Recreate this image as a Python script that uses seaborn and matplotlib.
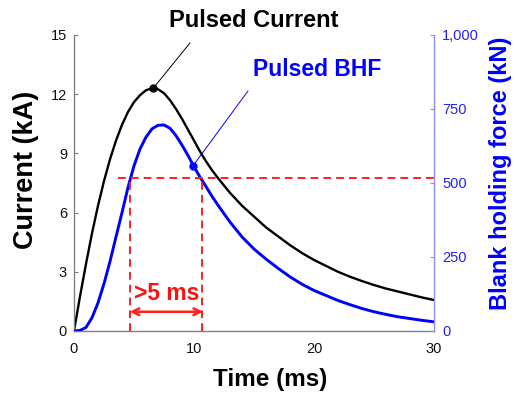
import matplotlib
matplotlib.use("Agg")
import matplotlib.pyplot as plt
from matplotlib.ticker import FuncFormatter
import seaborn as sns
import pandas as pd

sns.set_style("white")
plt.rcParams['font.family'] = ['Liberation Sans', 'DejaVu Sans']

# ---- data ----
time_ms = [0, 0.5, 1, 1.5, 2, 2.5, 3, 3.5, 4, 4.5, 5, 5.5, 6, 6.5, 7, 7.5, 8, 8.5,
           9, 9.5, 10, 10.5, 11, 11.5, 12, 13, 14, 15, 16, 17, 18, 19, 20, 21, 22,
           23, 24, 25, 26, 27, 28, 29, 30]
current_kA = [0, 1.75, 3.4, 4.95, 6.35, 7.6, 8.7, 9.65, 10.45, 11.1, 11.6, 11.95, 12.2,
              12.3, 12.25, 12.05, 11.7, 11.25, 10.75, 10.2, 9.65, 9.1, 8.6, 8.15, 7.75,
              7.0, 6.35, 5.8, 5.25, 4.8, 4.35, 3.95, 3.6, 3.3, 3.0, 2.75, 2.53, 2.33,
              2.15, 2.0, 1.85, 1.7, 1.57]
bhf_kN = [0, 2, 12, 45, 95, 160, 235, 318, 400, 485, 558, 615, 655, 683, 695, 696, 685,
          660, 628, 593, 555, 520, 488, 455, 425, 368, 318, 277, 243, 212, 183, 158,
          137, 120, 103, 89, 76, 65, 56, 48, 42, 36, 31]

threshold_kN = 518
window_start_ms = 4.65
window_end_ms = 10.7
current_peak = (6.6, 12.3)
bhf_marker = (9.9, 557)

current_ticks = [0, 3, 6, 9, 12, 15]
force_ticks = [0, 250, 500, 750, 1000]
time_ticks = [0, 10, 20, 30]

df = pd.DataFrame({"t": time_ms, "current": current_kA, "bhf": bhf_kN})

# ---- figure ----
fig = plt.figure(figsize=(5.16, 3.96), dpi=100)
ax = fig.add_axes([74/516, 1-331/396, 360/516, 296/396])
ax2 = ax.twinx()

sns.lineplot(data=df, x="t", y="current", ax=ax, color="black", lw=1.7)
sns.lineplot(data=df, x="t", y="bhf", ax=ax2, color="#0000ff", lw=2.1)

ax.set_xlim(0, 30)
ax.set_ylim(0, 15)
ax2.set_ylim(0, 1000)
ax.set_xticks(time_ticks)
ax.set_yticks(current_ticks)
ax2.set_yticks(force_ticks)
ax2.yaxis.set_major_formatter(FuncFormatter(lambda v, p: f"{v:,.0f}"))

for s in ["top", "right"]:
    ax.spines[s].set_visible(False)
for s in ["top", "left", "bottom"]:
    ax2.spines[s].set_visible(False)
ax.spines["left"].set_color("#808080")
ax.spines["bottom"].set_color("#808080")
ax2.spines["right"].set_color("#8c8cff")
for sp in [ax.spines["left"], ax.spines["bottom"], ax2.spines["right"]]:
    sp.set_linewidth(1.0)

ax.tick_params(axis="both", direction="in", length=3, width=0.8, color="#808080",
               labelsize=10.5, labelcolor="#111111")
ax.tick_params(axis="y", pad=5)
ax.tick_params(axis="x", pad=8)
ax2.tick_params(axis="y", direction="in", length=3, width=0.8, color="#8c8cff",
                labelsize=10.5, labelcolor="#2020ff", pad=6)

# labels
ax.set_xlabel("Time (ms)", fontsize=17.5, fontweight="bold", color="black")
ax.xaxis.set_label_coords(0.546, -0.165)
ax.xaxis.label.set_va("center")
ax.set_ylabel("Current (kA)", fontsize=19.5, fontweight="bold", color="black")
ax.yaxis.set_label_coords(-0.133, 0.544)
ax.yaxis.label.set_va("center")
ax2.set_ylabel("Blank holding force (kN)", fontsize=17, fontweight="bold", color="#0000ff")
ax2.yaxis.set_label_coords(1.186, 0.532)
ax2.yaxis.label.set_va("center")

# red dashed threshold lines
dash_kw = dict(color="#ff2020", lw=1.4, linestyle=(0, (4, 2.6)))
ax2.plot([3.7, 30], [threshold_kN, threshold_kN], **dash_kw)
ax2.plot([window_start_ms, window_start_ms], [0, threshold_kN], clip_on=False, **dash_kw)
ax2.plot([window_end_ms, window_end_ms], [0, threshold_kN], clip_on=False, **dash_kw)

ax2.annotate("", xy=(window_start_ms, 65), xytext=(window_end_ms + 0.05, 65),
             arrowprops=dict(arrowstyle="<->", color="#ff2020", lw=1.8,
                             mutation_scale=12, shrinkA=0, shrinkB=0))
ax2.text(7.75, 125, ">5 ms", color="#ff1010", fontsize=16.5, fontweight="bold",
         ha="center", va="center")

# annotations
ax.plot([current_peak[0]], [current_peak[1]], "o", color="black", ms=5, zorder=5)
ax.plot([current_peak[0], 9.67], [current_peak[1], 14.6], color="black", lw=0.7,
        clip_on=False)
ax.text(15.0, 15.76, "Pulsed Current", fontsize=17, fontweight="bold", color="black",
        ha="center", va="center", clip_on=False)

ax2.plot([bhf_marker[0]], [bhf_marker[1]], "o", color="#0000ff", ms=5, zorder=5)
ax2.plot([bhf_marker[0], 14.5], [bhf_marker[1], 811], color="#0000ff", lw=0.7)
ax2.text(20.25, 882, "Pulsed BHF", fontsize=16.5, fontweight="bold", color="#0000ff",
         ha="center", va="center")

fig.savefig("out.png", dpi=100)
